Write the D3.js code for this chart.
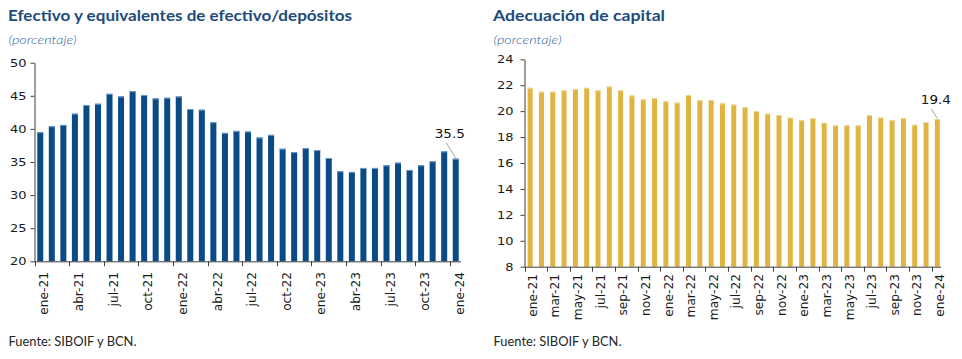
<!DOCTYPE html>
<html><head><meta charset="utf-8">
<script src="https://cdn.jsdelivr.net/npm/d3@7"></script>
<style>
html,body{margin:0;padding:0;background:#fff;}
svg{display:block;}
</style></head>
<body>
<svg id="c" width="962" height="359"></svg>
<script>
// ---------- data ----------
const categories = ["ene-21","feb-21","mar-21","abr-21","may-21","jun-21","jul-21","ago-21","sep-21","oct-21","nov-21","dic-21",
  "ene-22","feb-22","mar-22","abr-22","may-22","jun-22","jul-22","ago-22","sep-22","oct-22","nov-22","dic-22",
  "ene-23","feb-23","mar-23","abr-23","may-23","jun-23","jul-23","ago-23","sep-23","oct-23","nov-23","dic-23","ene-24"];
const liquidityValues = [39.5,40.4,40.6,42.3,43.6,43.8,45.3,44.9,45.7,45.1,44.6,44.7,44.9,43.0,42.9,41.0,39.4,39.7,39.6,38.7,39.1,37.0,36.5,37.1,36.8,35.6,33.6,33.5,34.1,34.1,34.5,34.9,33.8,34.5,35.1,36.6,35.5];
const capitalValues = [21.8,21.5,21.5,21.6,21.7,21.8,21.6,21.9,21.6,21.2,20.9,21.0,20.75,20.65,21.25,20.85,20.85,20.6,20.5,20.3,20.0,19.8,19.7,19.5,19.3,19.45,19.1,18.9,18.9,18.9,19.7,19.5,19.3,19.45,18.95,19.15,19.4];
const liquidityTicksY = [20,25,30,35,40,45,50];
const capitalTicksY = [8,10,12,14,16,18,20,22,24];
const liquidityTickLabels = ["ene-21","abr-21","jul-21","oct-21","ene-22","abr-22","jul-22","oct-22","ene-23","abr-23","jul-23","oct-23","ene-24"];
const capitalTickLabels = ["ene-21","mar-21","may-21","jul-21","sep-21","nov-21","ene-22","mar-22","may-22","jul-22","sep-22","nov-22","ene-23","mar-23","may-23","jul-23","sep-23","nov-23","ene-24"];
const titles = ["Efectivo y equivalentes de efectivo/depósitos","Adecuación de capital"];
const subtitle = "(porcentaje)";
const source = "Fuente: SIBOIF y BCN.";
const lastLabels = ["35.5","19.4"];

// ---------- drawing ----------
const svg = d3.select("#c");
const AX = "#3f3f3f";
const SX = 1.18; // horizontal stretch of numeric text

function panel(o){
  const g = svg.append("g");
  const x = d3.scaleBand().domain(categories).range([o.x0, o.x1]).paddingInner(o.pad).paddingOuter(o.pad/2);
  const xb = d3.scaleBand().domain(categories).range([o.x0, o.x1]);
  const y = d3.scaleLinear().domain(o.domain).range([o.yb, o.yt]);

  // title
  g.append("text").attr("x", o.tx).attr("y", o.ty)
    .attr("font-family","Lato").attr("font-weight","700").attr("font-size",14.5)
    .attr("fill","#1c4b7c").attr("textLength", o.tlen).attr("lengthAdjust","spacingAndGlyphs")
    .text(o.title);
  g.append("text").attr("x", o.tx+0.5).attr("y", 44)
    .attr("font-family","Lato").attr("font-style","italic").attr("font-weight","300").attr("font-size",12.5)
    .attr("fill","#2f5f9e").attr("textLength", 68).attr("lengthAdjust","spacingAndGlyphs")
    .text(subtitle);
  g.append("text").attr("x", o.tx+0.5).attr("y", 345.5)
    .attr("font-family","Lato").attr("font-size",12.5)
    .attr("fill","#262626").attr("textLength", 128).attr("lengthAdjust","spacingAndGlyphs")
    .text(source);

  // bars
  g.selectAll("rect.bar").data(o.values).join("rect").attr("class","bar")
    .attr("x",(d,i)=>x(categories[i])).attr("width",x.bandwidth())
    .attr("y",d=>y(d)).attr("height",d=>y(o.domain[0])-y(d))
    .attr("fill",o.color);
  g.selectAll("rect.hl").data(o.values).join("rect").attr("class","hl")
    .attr("x",(d,i)=>x(categories[i])).attr("width",x.bandwidth())
    .attr("y",d=>y(d)).attr("height",1)
    .attr("fill",o.hl);

  // y axis
  const ya = g.append("g").attr("transform",`translate(${o.x0},0)`)
    .call(d3.axisLeft(y).tickValues(o.yticks).tickSize(4).tickSizeOuter(0).tickFormat(d3.format("d")));
  ya.select(".domain").attr("stroke",AX);
  ya.selectAll(".tick line").attr("stroke",AX);
  ya.selectAll(".tick text").remove();
  g.selectAll("text.yl").data(o.yticks).join("text").attr("class","yl")
    .attr("transform",d=>`translate(${o.ylabX},${y(d)}) scale(${SX},1)`)
    .attr("text-anchor","end").attr("dy","0.36em")
    .attr("font-family","DejaVu Sans").attr("font-size",11).attr("fill","#1a1a1a")
    .text(d=>d);

  // x axis
  const ticks = o.tickLabels.map(l=>categories.indexOf(l));
  g.append("line").attr("x1",o.x0).attr("x2",o.xend).attr("y1",o.yb+0.5).attr("y2",o.yb+0.5).attr("stroke",AX);
  g.selectAll("line.xt").data(ticks).join("line").attr("class","xt")
    .attr("x1",i=>Math.round(xb(categories[i]))+0.5).attr("x2",i=>Math.round(xb(categories[i]))+0.5)
    .attr("y1",o.yb).attr("y2",o.yb+5).attr("stroke",AX);
  g.selectAll("text.xl").data(o.tickLabels).join("text").attr("class","xl")
    .attr("transform",l=>`translate(${xb(l)+xb.bandwidth()/2+o.lshift},${o.ltop}) rotate(-90) scale(1.06,1)`)
    .attr("text-anchor","end").attr("dy","0.36em")
    .attr("font-family","DejaVu Sans").attr("font-size",11.5).attr("fill","#1a1a1a")
    .text(l=>l);

  // last value label
  const li = o.values.length-1;
  const cx = x(categories[li]) + x.bandwidth()/2, cy = y(o.values[li]);
  g.append("line").attr("x1",cx+o.l1[0]).attr("y1",cy+o.l1[1]).attr("x2",cx).attr("y2",cy-0.5)
    .attr("stroke","#a6a6a6").attr("stroke-width",1);
  g.append("text").attr("transform",`translate(${cx+o.lab[0]},${cy+o.lab[1]}) scale(${SX},1)`)
    .attr("text-anchor","middle")
    .attr("font-family","DejaVu Sans").attr("font-size",11.5).attr("fill","#111")
    .text(o.last);
}

panel({x0:34.5, x1:461.5, xend:461, pad:0.48, domain:[20,50], yb:261.3, yt:62.7,
  values:liquidityValues, color:"#0a4b87", hl:"#6f9cc8", yticks:liquidityTicksY, ylabX:26.5,
  tickLabels:liquidityTickLabels, lshift:4, ltop:272,
  title:titles[0], tx:8, ty:21, tlen:344,
  last:lastLabels[0], l1:[-9.5,-16], lab:[-6,-21]});

panel({x0:524.5, x1:943, xend:941, pad:0.56, domain:[8,24], yb:266.7, yt:59.3,
  values:capitalValues, color:"#e0b440", hl:"#f0d890", yticks:capitalTicksY, ylabX:513.5,
  tickLabels:capitalTickLabels, lshift:2.5, ltop:274,
  title:titles[1], tx:493, ty:20.5, tlen:172,
  last:lastLabels[1], l1:[-6,-10], lab:[-1.5,-15]});
</script>
</body></html>
